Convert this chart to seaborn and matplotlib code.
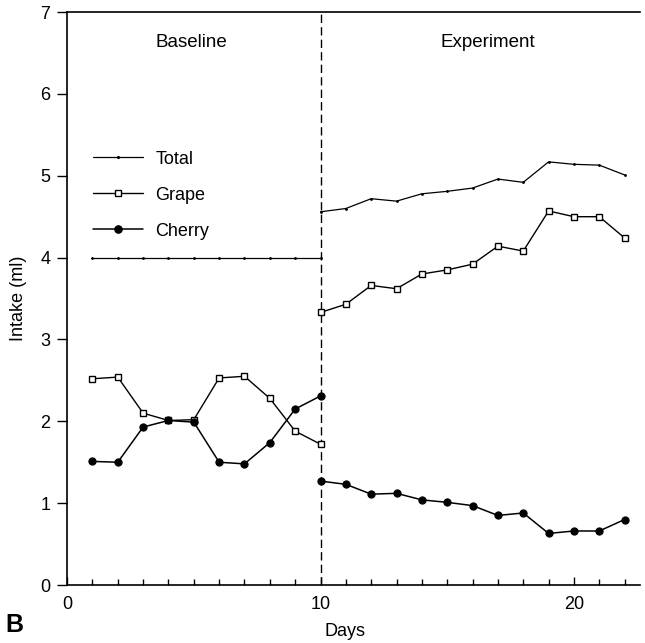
import numpy as np
import pandas as pd
import matplotlib
matplotlib.use("Agg")
import matplotlib.pyplot as plt
from matplotlib.lines import Line2D
import seaborn as sns

# ---- data ----
base_days = [1, 2, 3, 4, 5, 6, 7, 8, 9, 10]
base_total = [4.0, 4.0, 4.0, 4.0, 4.0, 4.0, 4.0, 4.0, 4.0, 4.0]
base_grape = [2.52, 2.54, 2.10, 2.01, 2.02, 2.53, 2.55, 2.28, 1.88, 1.72]
base_cherry = [1.51, 1.50, 1.93, 2.01, 1.99, 1.50, 1.48, 1.74, 2.15, 2.31]

exp_days = [10, 11, 12, 13, 14, 15, 16, 17, 18, 19, 20, 21, 22]
exp_total = [4.56, 4.60, 4.72, 4.69, 4.78, 4.81, 4.85, 4.96, 4.92, 5.17, 5.14, 5.13, 5.01]
exp_grape = [3.33, 3.43, 3.66, 3.62, 3.80, 3.85, 3.92, 4.14, 4.08, 4.57, 4.50, 4.50, 4.24]
exp_cherry = [1.27, 1.23, 1.11, 1.12, 1.04, 1.01, 0.97, 0.85, 0.88, 0.63, 0.66, 0.66, 0.80]

series_names = ["Total", "Grape", "Cherry"]
phase_labels = ["Baseline", "Experiment"]
x_ticks = [0, 10, 20]
y_ticks = [0, 1, 2, 3, 4, 5, 6, 7]

rows = []
for phase, days, vals in [("Baseline", base_days, [base_total, base_grape, base_cherry]),
                          ("Experiment", exp_days, [exp_total, exp_grape, exp_cherry])]:
    for name, v in zip(series_names, vals):
        for d, y in zip(days, v):
            rows.append({"Days": d, "Intake": y, "Series": name, "Phase": phase})
df = pd.DataFrame(rows)

sns.set_style("ticks")
plt.rcParams["font.family"] = ["Liberation Sans", "DejaVu Sans"]
for k in ["text.color", "axes.labelcolor", "xtick.color", "ytick.color", "axes.edgecolor"]:
    plt.rcParams[k] = "black"

fig = plt.figure(figsize=(6.45, 6.43), dpi=100)
ax = fig.add_axes([0.104, 0.0902, 0.888, 0.891])

styles = {
    "Total": dict(marker=".", markersize=2.5, linewidth=0.9, color="black",
                  markerfacecolor="black", markeredgecolor="black"),
    "Grape": dict(marker="s", markersize=5, linewidth=1.0, color="black",
                  markerfacecolor="white", markeredgecolor="black", markeredgewidth=1.0),
    "Cherry": dict(marker="o", markersize=5.2, linewidth=1.1, color="black",
                   markerfacecolor="black", markeredgecolor="black"),
}

for name in series_names:
    for phase in phase_labels:
        sub = df[(df.Series == name) & (df.Phase == phase)]
        sns.lineplot(data=sub, x="Days", y="Intake", ax=ax, estimator=None,
                     sort=True, legend=False, **styles[name])

ax.axvline(10, color="black", linestyle=(0, (6, 3)), linewidth=1.0, zorder=1)

ax.set_xlim(0, 22.6)
ax.set_ylim(0, 7)
ax.set_xticks(x_ticks)
ax.set_xticks(np.arange(0, 23, 1), minor=True)
ax.set_yticks(y_ticks)
ax.tick_params(axis="x", which="major", direction="in", length=6, width=1, labelsize=13, pad=8)
ax.tick_params(axis="x", which="minor", direction="in", length=4, width=1)
ax.tick_params(axis="y", which="major", direction="out", length=7, width=1, labelsize=13, pad=5)

for s in ["left", "bottom", "top"]:
    ax.spines[s].set_visible(True)
    ax.spines[s].set_linewidth(1.2)
    ax.spines[s].set_color("black")
ax.spines["right"].set_visible(False)

ax.set_xlabel("Days", fontsize=13)
ax.xaxis.set_label_coords(0.485, -0.066)
ax.set_ylabel("Intake (ml)", fontsize=13)
ax.yaxis.set_label_coords(-0.07, 0.5)

ax.text(4.9, 6.63, phase_labels[0], ha="center", va="center", fontsize=13.5)
ax.text(16.6, 6.63, phase_labels[1], ha="center", va="center", fontsize=13.5)

fig.text(0.008, 0.028, "B", fontsize=18, fontweight="bold", ha="left", va="center")

handles = [Line2D([], [], **styles[n]) for n in series_names]
ax.legend(handles, series_names, loc="upper left", bbox_to_anchor=(0.045, 0.758),
          frameon=False, fontsize=13, handlelength=2.8, handletextpad=0.65,
          labelspacing=1.05, borderpad=0, borderaxespad=0)

fig.savefig("out.png", dpi=100)
